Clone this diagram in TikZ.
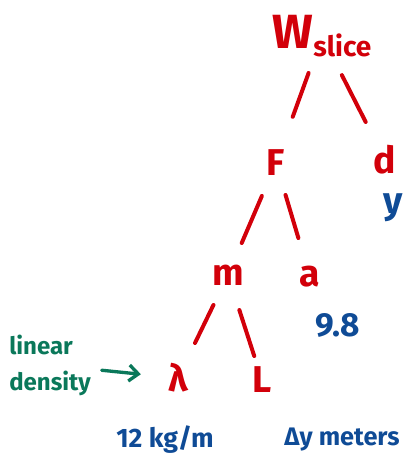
\documentclass[tikz,border=0pt]{standalone}
\usepackage{fontspec}
\setmainfont{Fira Sans}
\usetikzlibrary{arrows.meta}
\definecolor{inkred}{RGB}{210,0,10}
\definecolor{inkblue}{RGB}{15,75,150}
\definecolor{inkgreen}{RGB}{10,120,90}

\begin{document}
\begin{tikzpicture}[x=0.75pt, y=-0.75pt,
    qty/.style={text=inkred, inner sep=0pt, font=\fontsize{28}{30}\selectfont\bfseries},
    val/.style={text=inkblue, inner sep=0pt, font=\fontsize{22}{24}\selectfont\bfseries},
    note/.style={text=inkgreen, inner sep=0pt, align=left, font=\fontsize{18}{27}\selectfont\bfseries},
    branch/.style 2 args={draw=inkred, line width=3pt, line cap=round, shorten <=#1, shorten >=#2}]
    \useasboundingbox (0,0) rectangle (404,466);

    % Quantities
    \node[qty, font=\fontsize{36}{38}\selectfont\bfseries] (W) at (322,36)
        {W\raisebox{-6pt}{\fontsize{21}{21}\selectfont\bfseries slice}};
    \node[qty] (F) at (276,163) {F};
    \node[qty] (d) at (385,160) {d};
    \node[qty] (m) at (228,275) {m};
    \node[qty] (a) at (310,277) {a};
    \node[qty] (lam) at (178,378) {λ};
    \node[qty] (L) at (262,380) {L};

    % Values
    \node[val, font=\fontsize{28}{30}\selectfont\bfseries] (dval) at (393,208) {y};
    \node[val, font=\fontsize{25}{27}\selectfont\bfseries] (aval) at (338,325) {9.8};
    \node[val, font=\fontsize{20}{22}\selectfont\bfseries] (lamval) at (165,440) {12 kg/m};
    \node[val, font=\fontsize{19}{21}\selectfont\bfseries] (Lval) at (342,440) {Δy meters};

    % Note
    \node[note] (lin) at (50,365) {linear\\density};
    \draw[inkgreen, line width=2.5pt, line cap=round, shorten <=39pt, shorten >=28pt,
        -{Straight Barb[length=7pt, width=12pt]}] (lin.center) -- (lam.center);

    % Branches
    \draw[branch={29.5pt}{36.8pt}] (W.center) -- (F.center);
    \draw[branch={32.9pt}{32pt}] (W.center) -- (d.center);
    \draw[branch={26.9pt}{26.1pt}] (F.center) -- (m.center);
    \draw[branch={25pt}{30.5pt}] (F.center) -- (a.center);
    \draw[branch={25pt}{29.2pt}] (m.center) -- (lam.center);
    \draw[branch={27.6pt}{18.9pt}] (m.center) -- (L.center);
\end{tikzpicture}
\end{document}
